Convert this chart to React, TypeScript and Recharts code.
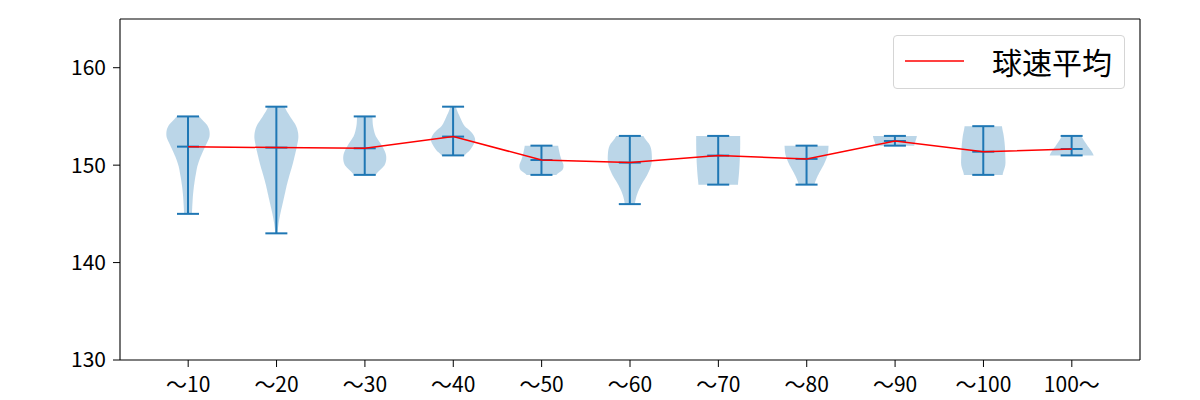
import React from 'react';
import {
  ComposedChart,
  Bar,
  Line,
  XAxis,
  YAxis,
  Legend,
} from 'recharts';

const labels = ['～10', '～20', '～30', '～40', '～50', '～60', '～70', '～80', '～90', '～100', '100～'];
const minSpeeds = [145, 143, 149, 151, 149, 146, 148, 148, 152, 149, 151];
const maxSpeeds = [155, 156, 155, 156, 152, 153, 153, 152, 153, 154, 153];
const meanSpeeds = [151.9, 151.8, 151.73, 152.93, 150.53, 150.26, 150.98, 150.64, 152.48, 151.38, 151.66];
// relative violin width, evenly spaced from min (first) to max (last)
const densityProfiles = [
  [0.18, 0.2, 0.23, 0.28, 0.35, 0.44, 0.6, 0.8, 0.98, 0.9, 0.53],
  [0.05, 0.1, 0.18, 0.28, 0.38, 0.48, 0.6, 0.73, 0.84, 0.94, 1.0, 0.9, 0.62, 0.38],
  [0.5, 0.9, 0.97, 0.78, 0.5, 0.38, 0.35],
  [0.53, 0.75, 0.9, 1.0, 0.95, 0.78, 0.53, 0.4, 0.3, 0.2, 0.13],
  [0.68, 0.95, 1.0, 0.92, 0.85, 0.8, 0.76],
  [0.23, 0.33, 0.53, 0.79, 0.97, 1.0, 0.92, 0.62],
  [0.9, 0.94, 0.97, 0.99, 1.0, 1.0],
  [0.36, 0.53, 0.77, 0.95, 1.0],
  [0.88, 1.0],
  [0.88, 1.0, 1.0, 0.98, 0.93, 0.85],
  [1.0, 0.72, 0.45],
];

const data = labels.map((label, i) => ({
  label,
  range: [minSpeeds[i], maxSpeeds[i]],
  min: minSpeeds[i],
  max: maxSpeeds[i],
  mean: meanSpeeds[i],
  profile: densityProfiles[i],
}));

const BLUE = '#1f77b4';
const Y_DOMAIN = [130, 165];

// catmull-rom so the outline isn't jagged
const smooth = (p: number[], t: number) => {
  const n = p.length;
  if (n === 1) return p[0];
  const f = t * (n - 1);
  const i = Math.min(Math.floor(f), n - 2);
  const u = f - i;
  const p0 = p[Math.max(i - 1, 0)];
  const p1 = p[i];
  const p2 = p[i + 1];
  const p3 = p[Math.min(i + 2, n - 1)];
  const v =
    0.5 *
    (2 * p1 +
      (-p0 + p2) * u +
      (2 * p0 - 5 * p1 + 4 * p2 - p3) * u * u +
      (-p0 + 3 * p1 - 3 * p2 + p3) * u * u * u);
  return Math.max(0, Math.min(1.05, v));
};

const ViolinShape = (props: any) => {
  const { x, y, width, height, index } = props;
  const entry = props.payload && props.payload.profile ? props.payload : data[index];
  const top = Math.min(y, y + height);
  const bottom = Math.max(y, y + height);
  const cx = x + width / 2;
  const half = width / 2;
  const steps = 80;
  const left: string[] = [];
  const right: string[] = [];
  for (let k = 0; k <= steps; k++) {
    const t = k / steps;
    const w = smooth(entry.profile, t) * half;
    const py = bottom - t * (bottom - top);
    left.push(`${cx - w},${py}`);
    right.unshift(`${cx + w},${py}`);
  }
  const path = `M${left.join(' L')} L${right.join(' L')} Z`;
  const span = entry.max - entry.min;
  const meanY = bottom - ((entry.mean - entry.min) / span) * (bottom - top);
  const cap = width / 4;
  return (
    <g>
      <path d={path} fill={BLUE} fillOpacity={0.3} stroke="none" />
      <line x1={cx} x2={cx} y1={top} y2={bottom} stroke={BLUE} strokeWidth={2} />
      <line x1={cx - cap} x2={cx + cap} y1={top} y2={top} stroke={BLUE} strokeWidth={2} />
      <line x1={cx - cap} x2={cx + cap} y1={bottom} y2={bottom} stroke={BLUE} strokeWidth={2} />
      <line x1={cx - cap} x2={cx + cap} y1={meanY} y2={meanY} stroke={BLUE} strokeWidth={2} />
    </g>
  );
};

const LegendBox = () => (
  <div
    style={{
      position: 'relative',
      width: 232,
      height: 54,
      boxSizing: 'border-box',
      border: '1px solid #d5d5d5',
      borderRadius: 4,
      background: 'rgba(255,255,255,0.8)',
    }}
  >
    <svg width={70} height={54} style={{ position: 'absolute', left: 0, top: 0 }}>
      <line x1={11} x2={74} y1={25} y2={25} stroke="#ff0000" strokeWidth={1.5} />
    </svg>
    <span
      style={{
        position: 'absolute',
        left: 98,
        top: 6,
        fontSize: 30,
        lineHeight: '38px',
        color: '#000',
      }}
    >
      球速平均
    </span>
  </div>
);

const spine = { stroke: '#000', strokeWidth: 1.1 };

const App: React.FC = () => {
  return (
    <div
      style={{
        position: 'absolute',
        left: 0,
        top: 0,
        width: 1200,
        height: 400,
        background: '#fff',
        fontFamily: '"Noto Sans CJK JP", "Noto Sans", sans-serif',
      }}
    >
      <ComposedChart
        width={1200}
        height={400}
        data={data}
        margin={{ top: 18, right: 59, bottom: 0, left: 0 }}
      >
        <XAxis
          dataKey="label"
          padding={{ left: 24, right: 24 }}
          height={40}
          tickSize={7}
          tickMargin={10}
          interval={0}
          tick={{ fill: '#000', fontSize: 21 }}
          tickLine={{ stroke: '#000' }}
          axisLine={spine}
        />
        {/* top spine */}
        <XAxis
          xAxisId="top"
          dataKey="label"
          orientation="top"
          padding={{ left: 24, right: 24 }}
          height={1}
          tick={false}
          tickLine={false}
          axisLine={spine}
        />
        <YAxis
          domain={Y_DOMAIN}
          ticks={[130, 140, 150, 160]}
          width={120}
          tickSize={7}
          tickMargin={7}
          allowDataOverflow
          tick={{ fill: '#000', fontSize: 21 }}
          tickLine={{ stroke: '#000' }}
          axisLine={spine}
        />
        {/* right spine */}
        <YAxis
          yAxisId="right"
          orientation="right"
          domain={Y_DOMAIN}
          allowDataOverflow
          width={1}
          tick={false}
          tickLine={false}
          axisLine={spine}
        />
        <Bar dataKey="range" barSize={44} shape={ViolinShape} isAnimationActive={false} />
        <Line
          xAxisId="top"
          yAxisId="right"
          dataKey="mean"
          name="球速平均"
          stroke="#ff0000"
          strokeWidth={1.5}
          dot={false}
          activeDot={false}
          isAnimationActive={false}
        />
        <Legend
          layout="horizontal"
          verticalAlign="middle"
          align="center"
          content={LegendBox}
          wrapperStyle={{ left: 893, top: 35, width: 232, height: 54 }}
        />
      </ComposedChart>
    </div>
  );
};

export default App;
